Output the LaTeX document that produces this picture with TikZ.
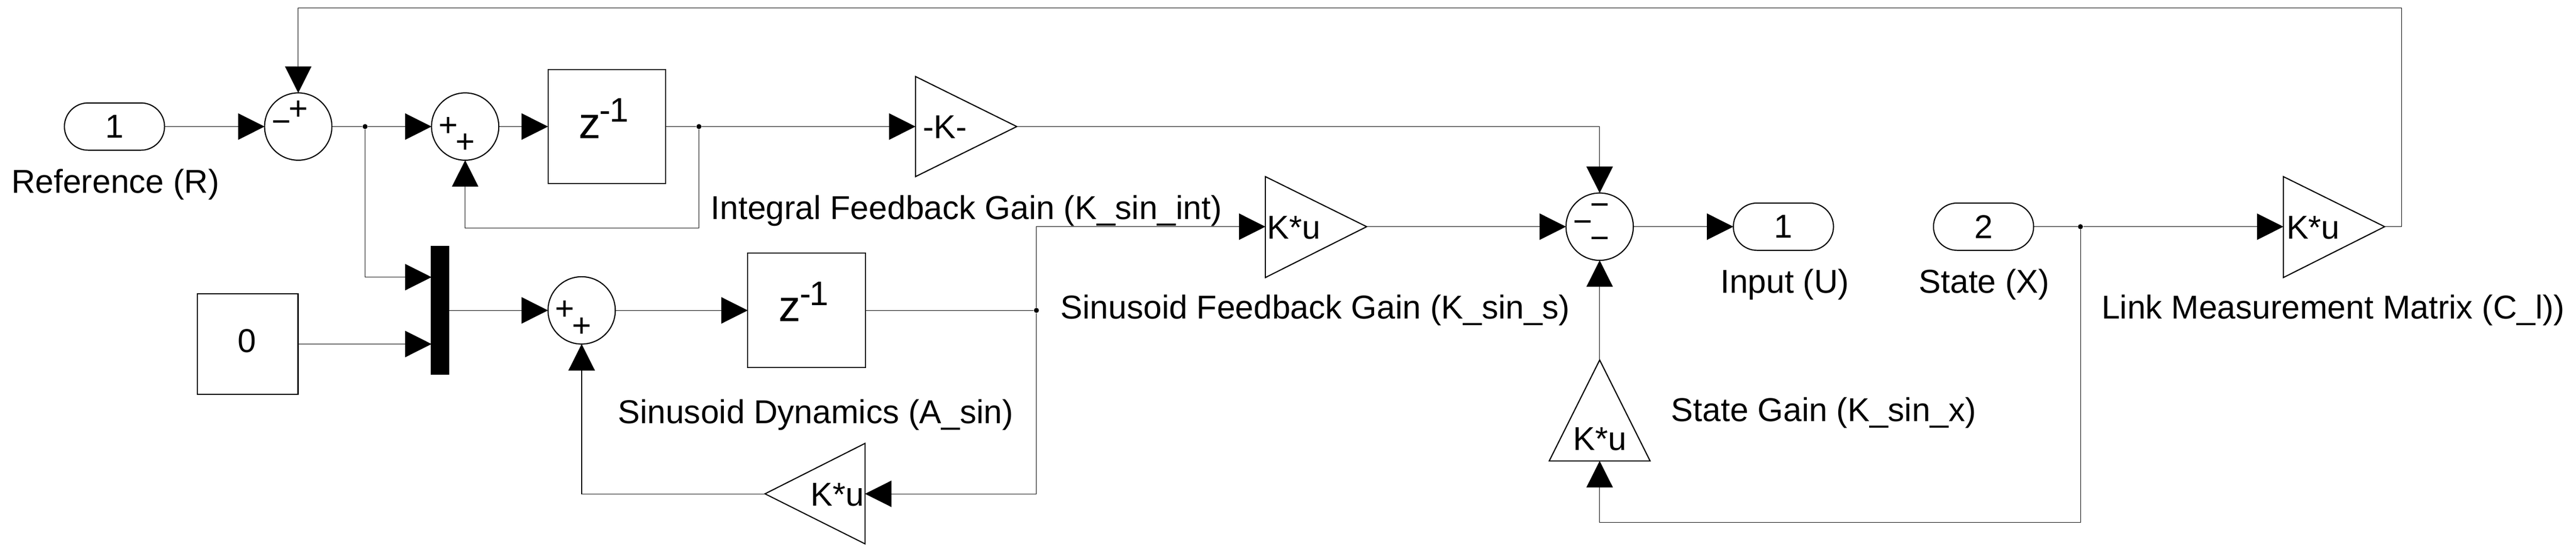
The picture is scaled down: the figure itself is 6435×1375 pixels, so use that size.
\documentclass[tikz,border=0pt]{standalone}
\usepackage{fontspec}
\setmainfont{Liberation Sans}
\usetikzlibrary{arrows.meta}
\newcommand{\zinv}{{\fontsize{31.3}{36}\selectfont z\kern-0.03cm\raisebox{0.41cm}{\fontsize{24.2}{28}\selectfont -\kern-0.03cm 1}}}
\tikzset{
    wire/.style={line width=0.4pt},
    sig/.style={wire,-{Triangle[length=0.66cm,width=0.66cm]}},
    block/.style={draw,line width=0.8pt,inner sep=0pt,outer sep=0pt},
    sumblock/.style={block,circle,minimum size=1.68cm},
    port/.style={block,rounded corners=0.59cm,minimum width=2.5cm,minimum height=1.18cm,font=\fontsize{23.5}{28}\selectfont},
    junction/.style={circle,fill=black,inner sep=0pt,minimum size=0.125cm},
    lbl/.style={anchor=base west,inner sep=0pt,font=\fontsize{23.5}{28}\selectfont},
    sign/.style={inner sep=0pt,font=\fontsize{23.5}{28}\selectfont}
}
\begin{document}
\begin{tikzpicture}[x=0.01cm,y=-0.01cm]
    \useasboundingbox (0,0) rectangle (6435,1375);
    % ports, sums and delays
    \node[port] (inR) at (286,316) {1};
    \node[port] (outU) at (4455,566) {1};
    \node[port] (inX) at (4955,566) {2};
    \node[sumblock] (sum1) at (745,316) {};
    \node[sumblock] (sum2) at (1162,316) {};
    \node[sumblock] (sum3) at (3996,566) {};
    \node[sumblock] (sum4) at (1453,775) {};
    \node[block,minimum width=2.94cm,minimum height=2.85cm] (delay1) at (1516,316) {};
    \node[block,minimum width=2.94cm,minimum height=2.85cm] (delay2) at (2015,775) {};
    \node[block,minimum width=2.51cm,minimum height=2.51cm] (const) at (619,859) {};
    \node[fill=black,inner sep=0pt,outer sep=0pt,minimum width=0.46cm,minimum height=3.21cm] (mux) at (1099,775) {};
    % gains
    \draw[line width=0.8pt] (2287,191) -- (2540,316) -- (2287,441) -- cycle;
    \draw[line width=0.8pt] (3161,441) -- (3414,566) -- (3161,693) -- cycle;
    \draw[line width=0.8pt] (2161,1107) -- (1911,1233) -- (2161,1358) -- cycle;
    \draw[line width=0.8pt] (3870,1151) -- (3996,899) -- (4122,1151) -- cycle;
    \draw[line width=0.8pt] (5704,441) -- (5957,566) -- (5704,693) -- cycle;
    \coordinate (gint1) at (2287,316);
    \coordinate (gint2) at (2540,316);
    \coordinate (gsin1) at (3161,566);
    \coordinate (gsin2) at (3414,566);
    \coordinate (gdyn1) at (2161,1233);
    \coordinate (gdyn2) at (1911,1233);
    \coordinate (gst1) at (3996,1151);
    \coordinate (gst2) at (3996,899);
    \coordinate (glink1) at (5704,566);
    \coordinate (glink2) at (5957,566);
    % mux inputs and corners
    \coordinate (mux1) at (1078,692);
    \coordinate (mux2) at (1078,859);
    \coordinate (back1) at (1746,570);
    \coordinate (back2) at (5197,1304);
    \coordinate (top) at (5999,20);
    % junctions
    \node[junction] (j1) at (912,316) {};
    \node[junction] (j2) at (1746,316) {};
    \node[junction] (j3) at (2589,775) {};
    \node[junction] (j4) at (5197,566) {};
    % texts in the blocks
    \node[lbl,anchor=base] (zero) at (617,880) {0};
    \node[lbl] (z1) at (1445,345) {\zinv};
    \node[lbl] (z2) at (1945,803) {\zinv};
    \node[lbl] (kint) at (2305,346) {-K-};
    \node[lbl] (ksin) at (3165,596) {K*u};
    \node[lbl] (kdyn) at (2025,1263) {K*u};
    \node[lbl] (kst) at (3929,1124) {K*u};
    \node[lbl] (klink) at (5711,596) {K*u};
    \node[sign] (s1a) at (745,275) {+};
    \node[sign] (s1b) at (703,316) {\char"2212};
    \node[sign] (s2a) at (1120,316) {+};
    \node[sign] (s2b) at (1162,358) {+};
    \node[sign] (s3a) at (3996,524) {\char"2212};
    \node[sign] (s3b) at (3954,566) {\char"2212};
    \node[sign] (s3c) at (3996,607) {\char"2212};
    \node[sign] (s4a) at (1411,775) {+};
    \node[sign] (s4b) at (1453,817) {+};
    % names
    \node[lbl] (tR) at (28,482) {Reference (R)};
    \node[lbl] (tint) at (1775,548) {Integral Feedback Gain (K\_sin\_int)};
    \node[lbl] (tsin) at (2649,796) {Sinusoid Feedback Gain (K\_sin\_s)};
    \node[lbl] (tdyn) at (1543,1057) {Sinusoid Dynamics (A\_sin)};
    \node[lbl] (tst) at (4174,1052) {State Gain (K\_sin\_x)};
    \node[lbl] (tU) at (4297,732) {Input (U)};
    \node[lbl] (tX) at (4793,732) {State (X)};
    \node[lbl] (tlink) at (5249,796) {Link Measurement Matrix (C\_l))};
    % connectors
    \draw[sig] (inR.east) -- (sum1.west);
    \draw[wire] (sum1.east) -- (j1);
    \draw[sig] (j1) -- (sum2.west);
    \draw[sig] (j1) |- (mux1);
    \draw[sig] (sum2.east) -- (delay1.west);
    \draw[wire] (delay1.east) -- (j2);
    \draw[sig] (j2) -- (gint1);
    \draw[sig] (j2) -- (back1) -| (sum2.south);
    \draw[sig] (gint2) -| (sum3.north);
    \draw[sig] (const.east) -- (mux2);
    \draw[sig] (mux.east) -- (sum4.west);
    \draw[sig] (sum4.east) -- (delay2.west);
    \draw[wire] (delay2.east) -- (j3);
    \draw[sig] (j3) |- (gsin1);
    \draw[sig] (j3) |- (gdyn1);
    \draw[sig] (gdyn2) -| (sum4.south);
    \draw[sig] (gsin2) -- (sum3.west);
    \draw[sig] (gst2) -- (sum3.south);
    \draw[sig] (sum3.east) -- (outU.west);
    \draw[wire] (inX.east) -- (j4);
    \draw[sig] (j4) -- (glink1);
    \draw[sig] (j4) -- (back2) -| (gst1);
    \draw[sig] (glink2) -| (top) -| (sum1.north);
\end{tikzpicture}
\end{document}
